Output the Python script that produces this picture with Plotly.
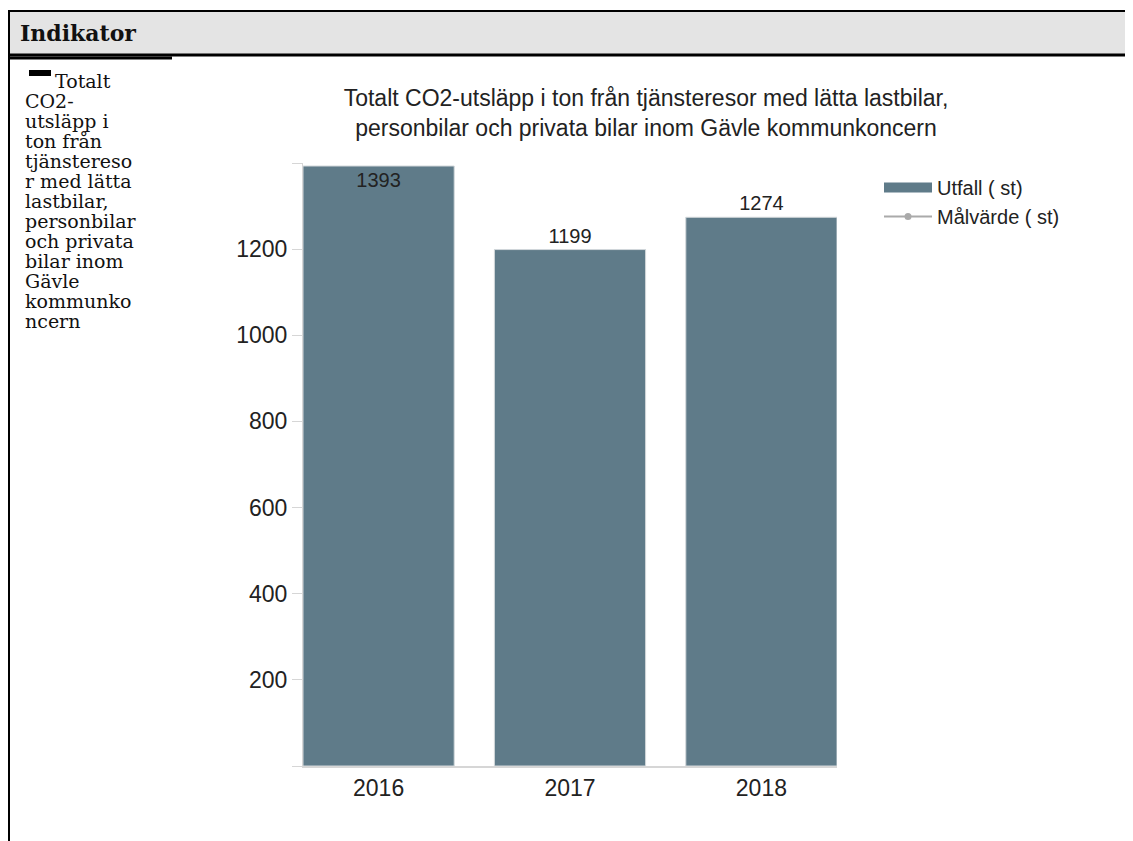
import plotly.graph_objects as go

# ---- data ----
years = ["2016", "2017", "2018"]
utfall = [1393, 1199, 1274]
malvarde = [None, None, None]
y_ticks = [0, 200, 400, 600, 800, 1000, 1200, 1400]
y_tick_labels = ["", "200", "400", "600", "800", "1000", "1200", ""]
chart_title = ("Totalt CO2-utsläpp i ton från tjänsteresor med lätta lastbilar,<br>"
               "personbilar och privata bilar inom Gävle kommunkoncern")
side_lines = ["Totalt", "CO2-", "utsläpp i", "ton från", "tjänstereso", "r med lätta",
              "lastbilar,", "personbilar", "och privata", "bilar inom", "Gävle",
              "kommunko", "ncern"]

# the browser's default body margin places the figure at (8, 8)
OFF = 8
W, H = 1133 - OFF, 841 - OFF
def px(x):
    return (x - OFF) / W
def py(y):
    return 1 - (y - OFF) / H

SANS = "Liberation Sans, Arial, sans-serif"
SERIF = "DejaVu Serif, Georgia, serif"
BAR_COLOR = "#5f7b89"

fig = go.Figure()
fig.add_trace(go.Bar(
    x=years, y=utfall, name="Utfall ( st)", showlegend=False, legendgroup="utfall",
    marker=dict(color=BAR_COLOR, line=dict(color="#d3d8db", width=1)),
    text=[str(v) for v in utfall],
    textposition=["inside", "outside", "outside"],
    insidetextanchor="end",
    textfont=dict(family=SANS, size=20, color="#222222"),
    cliponaxis=False,
    width=0.79,
))
# legend entry for the bars (wide rectangle symbol as in the original)
fig.add_trace(go.Scatter(
    x=[None], y=[None], name="Utfall ( st)", mode="lines", legendgroup="utfall",
    line=dict(color=BAR_COLOR, width=13),
))
fig.add_trace(go.Scatter(
    x=years, y=malvarde, name="Målvärde ( st)", mode="lines+markers",
    line=dict(color="#aaaaaa", width=2), marker=dict(color="#aaaaaa", size=7),
))

shapes = [
    dict(type="rect", xref="paper", yref="paper", x0=px(9), x1=px(1133), y0=py(11), y1=py(54),
         fillcolor="#e4e4e4", line=dict(width=0), layer="below"),
    dict(type="line", xref="paper", yref="paper", x0=px(9), x1=px(1133), y0=py(11), y1=py(11),
         line=dict(color="black", width=2)),
    dict(type="line", xref="paper", yref="paper", x0=px(9), x1=px(1133), y0=py(55), y1=py(55),
         line=dict(color="black", width=3)),
    dict(type="line", xref="paper", yref="paper", x0=px(9), x1=px(172), y0=py(58), y1=py(58),
         line=dict(color="black", width=3)),
    dict(type="line", xref="paper", yref="paper", x0=px(9), x1=px(9), y0=py(10), y1=py(841),
         line=dict(color="black", width=2)),
    dict(type="rect", xref="paper", yref="paper", x0=px(29), x1=px(51), y0=py(70), y1=py(76),
         fillcolor="black", line=dict(width=0)),
]

annotations = [
    dict(text="<b>Indikator</b>", xref="paper", yref="paper", x=px(18), y=py(33),
         xanchor="left", yanchor="middle", showarrow=False,
         font=dict(family=SERIF, size=22, color="#111111")),
]
for i, line in enumerate(side_lines):
    xpos = 53 if i == 0 else 23
    annotations.append(dict(text=line, xref="paper", yref="paper", x=px(xpos), y=py(81 + 20 * i),
                            xanchor="left", yanchor="middle", showarrow=False,
                            font=dict(family=SERIF, size=19, color="#111111")))

fig.update_layout(
    width=W, height=H,
    margin=dict(l=0, r=0, t=0, b=0),
    paper_bgcolor="white", plot_bgcolor="white",
    title=dict(text=chart_title, x=px(646), y=py(106), xref="paper", yref="paper",
               xanchor="center", yanchor="middle",
               font=dict(family=SANS, size=23, color="#222222")),
    xaxis=dict(domain=[px(303), px(837)], range=[-0.395, 2.395], showgrid=False,
               showline=True, linecolor="#d6d6d6", linewidth=2, ticks="",
               tickfont=dict(family=SANS, size=23, color="#222222")),
    yaxis=dict(domain=[py(766), py(163)], range=[0, 1400], showgrid=False, zeroline=False,
               showline=True, linecolor="#d6d6d6", linewidth=1,
               ticks="outside", ticklen=10, tickcolor="#d6d6d6",
               tickvals=y_ticks, ticktext=y_tick_labels,
               tickfont=dict(family=SANS, size=23, color="#222222")),
    legend=dict(x=px(879), y=py(168), xanchor="left", yanchor="top",
                font=dict(family=SANS, size=20, color="#222222"),
                bgcolor="rgba(0,0,0,0)", tracegroupgap=0, itemwidth=48,
                traceorder="normal"),
    shapes=shapes,
    annotations=annotations,
    showlegend=True,
    bargap=0.2,
)

fig.write_html("out.html")
